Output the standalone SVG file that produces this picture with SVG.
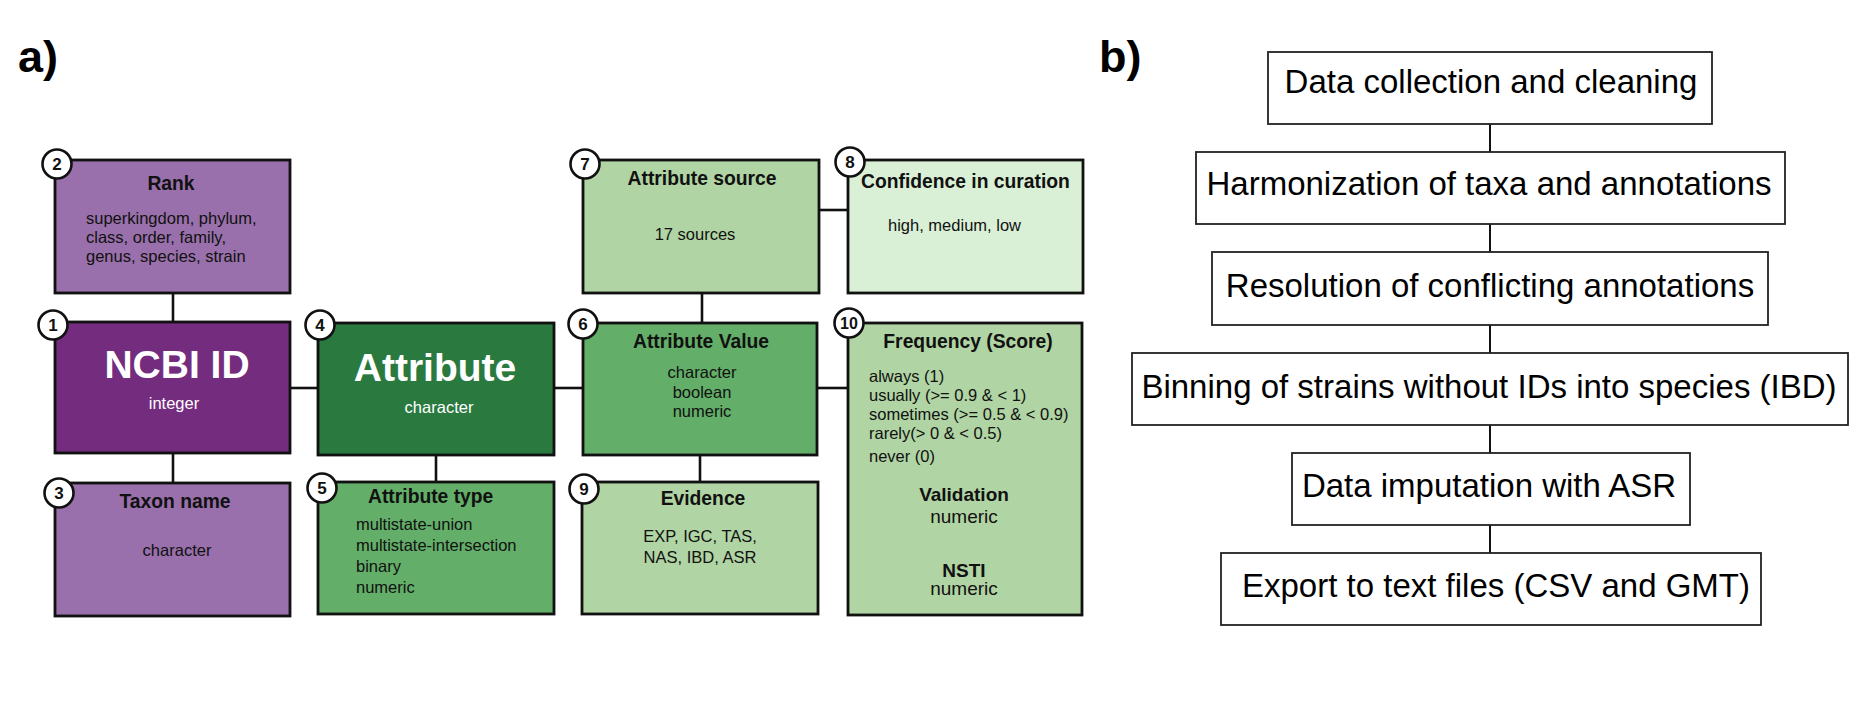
<svg xmlns="http://www.w3.org/2000/svg" width="1871" height="725" viewBox="0 0 1871 725">
<style>
text{font-family:"Liberation Sans",Arial,Helvetica,sans-serif;fill:#111}
.box{stroke:#111;stroke-width:2.8}
.fbox{fill:#fff;stroke:#222;stroke-width:1.8}
.con{stroke:#111;stroke-width:2.6;fill:none}
.fcon{stroke:#111;stroke-width:2;fill:none}
.badge circle{fill:#fff;stroke:#111;stroke-width:2.6}
.badge text{font-weight:bold;font-size:17px;text-anchor:middle}
.t{font-weight:bold;font-size:19.3px}
.b{font-size:16.5px}
.c{text-anchor:middle}
.big{font-weight:bold;font-size:39px;fill:#fff;text-anchor:middle}
.w{fill:#fff;font-size:16.5px;text-anchor:middle}
.step{font-size:33px;fill:#000}
.lab{font-weight:bold;font-size:45px;fill:#000}
.p1{fill:#742C7F}.p2{fill:#9970AB}.g1{fill:#2A7A3F}.g2{fill:#63AE68}.g3{fill:#B0D4A3}.g4{fill:#DAF0D6}
</style>
<text class="lab" x="18" y="72">a)</text>
<text class="lab" x="1099" y="72">b)</text>
<g id="connectors">
<line class="con" x1="173" y1="293" x2="173" y2="322"/>
<line class="con" x1="173" y1="453" x2="173" y2="483"/>
<line class="con" x1="290" y1="388" x2="318" y2="388"/>
<line class="con" x1="436" y1="455" x2="436" y2="482"/>
<line class="con" x1="554" y1="388" x2="583" y2="388"/>
<line class="con" x1="702" y1="293" x2="702" y2="323"/>
<line class="con" x1="700" y1="455" x2="700" y2="482"/>
<line class="con" x1="819" y1="210" x2="848" y2="210"/>
<line class="con" x1="817" y1="388" x2="848" y2="388"/>
<line class="fcon" x1="1490" y1="124" x2="1490" y2="152"/>
<line class="fcon" x1="1490" y1="224" x2="1490" y2="252"/>
<line class="fcon" x1="1490" y1="325" x2="1490" y2="353"/>
<line class="fcon" x1="1490" y1="425" x2="1490" y2="453"/>
<line class="fcon" x1="1490" y1="525" x2="1490" y2="553"/>
</g>
<g id="n2-rank">
<rect class="box p2" x="55" y="160" width="235" height="133"/>
<text class="t c" x="171" y="190">Rank</text>
<text class="b" x="86" y="224">superkingdom, phylum,</text>
<text class="b" x="86" y="243">class, order, family,</text>
<text class="b" x="86" y="262">genus, species, strain</text>
<g class="badge"><circle cx="57" cy="164" r="14.5"/><text x="57" y="170">2</text></g>
</g>
<g id="n1-ncbi">
<rect class="box p1" x="55" y="322" width="235" height="131"/>
<text class="big" x="177" y="378">NCBI ID</text>
<text class="w" x="174" y="409">integer</text>
<g class="badge"><circle cx="53" cy="325" r="14.5"/><text x="53" y="331">1</text></g>
</g>
<g id="n3-taxon">
<rect class="box p2" x="55" y="483" width="235" height="133"/>
<text class="t c" x="175" y="508">Taxon name</text>
<text class="b c" x="177" y="556">character</text>
<g class="badge"><circle cx="59" cy="493" r="14.5"/><text x="59" y="499">3</text></g>
</g>
<g id="n4-attribute">
<rect class="box g1" x="318" y="323" width="236" height="132"/>
<text class="big" x="435" y="381">Attribute</text>
<text class="w" x="439" y="413">character</text>
<g class="badge"><circle cx="320" cy="325" r="14.5"/><text x="320" y="331">4</text></g>
</g>
<g id="n5-attrtype">
<rect class="box g2" x="318" y="482" width="236" height="132"/>
<text class="t" x="368" y="503">Attribute type</text>
<text class="b" x="356" y="530">multistate-union</text>
<text class="b" x="356" y="551">multistate-intersection</text>
<text class="b" x="356" y="572">binary</text>
<text class="b" x="356" y="593">numeric</text>
<g class="badge"><circle cx="322" cy="488" r="14.5"/><text x="322" y="494">5</text></g>
</g>
<g id="n7-source">
<rect class="box g3" x="583" y="160" width="236" height="133"/>
<text class="t c" x="702" y="185">Attribute source</text>
<text class="b c" x="695" y="240">17 sources</text>
<g class="badge"><circle cx="585" cy="164" r="14.5"/><text x="585" y="170">7</text></g>
</g>
<g id="n8-confidence">
<rect class="box g4" x="848" y="160" width="235" height="133"/>
<text class="t" x="861" y="188">Confidence in curation</text>
<text class="b" x="888" y="231">high, medium, low</text>
<g class="badge"><circle cx="850" cy="162" r="14.5"/><text x="850" y="168">8</text></g>
</g>
<g id="n6-value">
<rect class="box g2" x="583" y="323" width="234" height="132"/>
<text class="t c" x="701" y="348">Attribute Value</text>
<text class="b c" x="702" y="378">character</text>
<text class="b c" x="702" y="398">boolean</text>
<text class="b c" x="702" y="417">numeric</text>
<g class="badge"><circle cx="583" cy="324" r="14.5"/><text x="583" y="330">6</text></g>
</g>
<g id="n9-evidence">
<rect class="box g3" x="582" y="482" width="236" height="132"/>
<text class="t c" x="703" y="505">Evidence</text>
<text class="b c" x="700" y="542">EXP, IGC, TAS,</text>
<text class="b c" x="700" y="563">NAS, IBD, ASR</text>
<g class="badge"><circle cx="584" cy="489" r="14.5"/><text x="584" y="495">9</text></g>
</g>
<g id="n10-frequency">
<rect class="box g3" x="848" y="323" width="234" height="292"/>
<text class="t c" x="968" y="348">Frequency (Score)</text>
<text class="b" x="869" y="382">always (1)</text>
<text class="b" x="869" y="401">usually (&gt;= 0.9 &amp; &lt; 1)</text>
<text class="b" x="869" y="420">sometimes (&gt;= 0.5 &amp; &lt; 0.9)</text>
<text class="b" x="869" y="439">rarely(&gt; 0 &amp; &lt; 0.5)</text>
<text class="b" x="869" y="462">never (0)</text>
<text class="c" x="964" y="501" style="font-weight:bold;font-size:19px">Validation</text>
<text class="c" x="964" y="523" style="font-size:19px">numeric</text>
<text class="c" x="964" y="577" style="font-weight:bold;font-size:19px">NSTI</text>
<text class="c" x="964" y="595" style="font-size:19px">numeric</text>
<g class="badge"><circle cx="849" cy="323" r="14.5"/><text x="849" y="329" style="font-size:16px">10</text></g>
</g>
<g id="s1">
<rect class="fbox" x="1268" y="52" width="444" height="72"/>
<text class="step c" x="1491" y="93">Data collection and cleaning</text>
</g>
<g id="s2">
<rect class="fbox" x="1196" y="152" width="589" height="72"/>
<text class="step c" x="1489" y="195">Harmonization of taxa and annotations</text>
</g>
<g id="s3">
<rect class="fbox" x="1212" y="252" width="556" height="73"/>
<text class="step c" x="1490" y="297">Resolution of conflicting annotations</text>
</g>
<g id="s4">
<rect class="fbox" x="1132" y="353" width="716" height="72"/>
<text class="step c" x="1489" y="398">Binning of strains without IDs into species (IBD)</text>
</g>
<g id="s5">
<rect class="fbox" x="1292" y="453" width="398" height="72"/>
<text class="step c" x="1489" y="497">Data imputation with ASR</text>
</g>
<g id="s6">
<rect class="fbox" x="1221" y="553" width="540" height="72"/>
<text class="step c" x="1496" y="597">Export to text files (CSV and GMT)</text>
</g>
</svg>
